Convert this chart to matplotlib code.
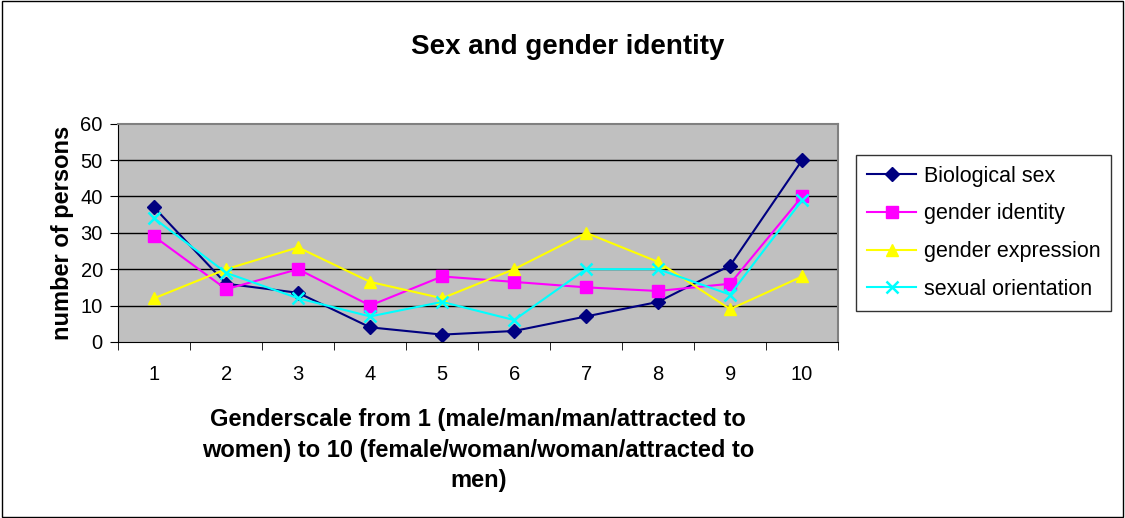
import numpy as np
import matplotlib
matplotlib.use('Agg')
import matplotlib.pyplot as plt
from matplotlib.patches import Rectangle

plt.rcParams['font.family'] = ['Liberation Sans', 'DejaVu Sans']

# dati
scala = [1, 2, 3, 4, 5, 6, 7, 8, 9, 10]
bio = [37, 16, 13.5, 4, 2, 3, 7, 11, 21, 50]
identita = [29, 14.5, 20, 10, 18, 16.5, 15, 14, 16, 40]
espressione = [12, 20, 26, 16.5, 12, 20, 30, 22, 9, 18]
orientamento = [34, 19, 12, 7, 11, 6, 20, 20, 13, 39]

fig = plt.figure(figsize=(11.25, 5.18), dpi=100)
ax = fig.add_axes([0.105, 0.34, 0.64, 0.421])
ax.set_facecolor('#c0c0c0')

ax.plot(scala, bio, color='#000080', marker='D', markersize=7, lw=1.5, label='Biological sex')
ax.plot(scala, identita, color='#ff00ff', marker='s', markersize=8, lw=1.5, label='gender identity')
ax.plot(scala, espressione, color='#ffff00', marker='^', markersize=9, lw=1.5, label='gender expression')
ax.plot(scala, orientamento, color='#00ffff', marker='x', markersize=9, mew=1.8, lw=1.5, label='sexual orientation')

ax.set_xlim(0.5, 10.5)
ax.set_ylim(0, 60)
ax.set_yticks(range(0, 61, 10))
ax.set_xticks(scala)
ax.set_xticks(np.arange(0.5, 11, 1), minor=True)
ax.tick_params(axis='x', which='major', length=0, pad=17, labelsize=14.5)
ax.tick_params(axis='x', which='minor', length=6, direction='out')
ax.tick_params(axis='y', length=6, direction='out', labelsize=14.5, pad=5)
for y in range(10, 60, 10):
    ax.axhline(y, color='black', lw=1, zorder=1)
ax.spines['top'].set_color('#808080')
ax.spines['right'].set_color('#808080')
ax.spines['top'].set_linewidth(1.5)
ax.spines['right'].set_linewidth(1.5)

ax.set_ylabel('number of persons', fontsize=17, fontweight='bold', labelpad=5)
ax.set_xlabel('Genderscale from 1 (male/man/man/attracted to\nwomen) to 10 (female/woman/woman/attracted to\nmen)',
              fontsize=17, fontweight='bold', labelpad=17, linespacing=1.42)

fig.text(0.505, 0.909, 'Sex and gender identity', fontsize=20, fontweight='bold', ha='center', va='center')

leg = fig.legend(loc='upper left', bbox_to_anchor=(0.761, 0.701), fontsize=15.5, frameon=True,
                 fancybox=False, edgecolor='black', handlelength=2.3, labelspacing=0.78,
                 borderpad=0.5, handletextpad=0.35, borderaxespad=0)
leg.get_frame().set_linewidth(1)

fig.patches.append(Rectangle((0.002, 0.002), 0.996, 0.996, transform=fig.transFigure,
                             fill=False, edgecolor='black', lw=1))

fig.savefig('out.png', dpi=100)
